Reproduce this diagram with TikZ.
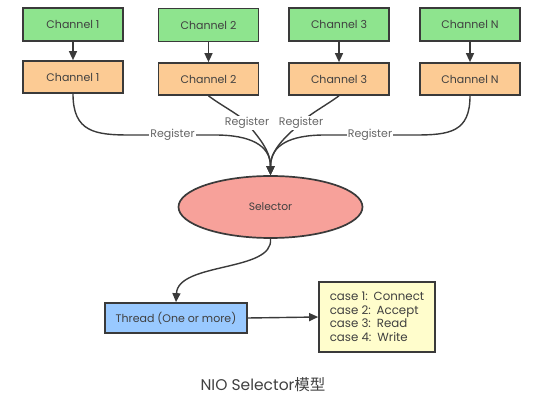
\documentclass[tikz,border=0pt]{standalone}
\usepackage{fontspec}
\setmainfont{Poppins}
\newfontfamily\cjk{Noto Sans CJK SC}
\usetikzlibrary{arrows.meta,shapes.geometric}
\definecolor{chgreen}{HTML}{8EE48E}
\definecolor{chorange}{HTML}{FCCB94}
\definecolor{selred}{HTML}{F7A19A}
\definecolor{thblue}{HTML}{99C9FF}
\definecolor{caseyel}{HTML}{FFFDCC}
\definecolor{edge}{HTML}{3A3A3A}
\definecolor{txt}{HTML}{404040}
\tikzset{
  box/.style={draw=edge, line width=1.7pt, minimum width=100pt, minimum height=33pt, inner sep=0pt, font=\fontsize{11}{13}\selectfont, text=txt},
  greenbox/.style={box, fill=chgreen},
  orangebox/.style={box, fill=chorange, minimum height=32pt},
  conn/.style={draw=edge, line width=1.4pt},
  arr/.style={conn, -{Triangle[length=9pt,width=8pt]}},
  reglabel/.style={fill=white, inner sep=1pt, text=gray!80!black, font=\fontsize{11}{12}\selectfont},
}
\begin{document}
\begin{tikzpicture}[x=1pt,y=-1pt]
\useasboundingbox (0,0) rectangle (560,411);
% top channels
\node[greenbox] (g1) at (73,24.5) {Channel 1};
\node[greenbox] (g2) at (208.5,25) {Channel 2};
\node[greenbox] (g3) at (339,24.5) {Channel 3};
\node[greenbox] (g4) at (470,24.5) {Channel N};
\node[orangebox] (o1) at (73,77) {Channel 1};
\node[orangebox] (o2) at (208.5,79) {Channel 2};
\node[orangebox] (o3) at (339,79) {Channel 3};
\node[orangebox] (o4) at (470,79) {Channel N};
\foreach \i in {1,2,3,4} {\draw[arr] (g\i) -- (o\i);}
% selector
\node[ellipse, draw=edge, line width=1.7pt, fill=selred, minimum width=184pt, minimum height=62pt, inner sep=0pt, font=\fontsize{10.7}{12}\selectfont, text=txt] (sel) at (270.5,207) {Selector};
% register connectors
\draw[arr] (o1.south) .. controls (73,132) and (95,135) .. (130,135)
  -- node[reglabel, pos=0.5] {Register} (215,135)
  .. controls (250,135) and (270.5,145) .. (sel.north);
\draw[arr] (o2.south) .. controls (222,106) and (240,115) .. node[reglabel, pos=1] {Register} (247,123)
  .. controls (258,137) and (270.5,150) .. (sel.north);
\draw[arr] (o3.south) .. controls (325,106) and (308,115) .. node[reglabel, pos=1] {Register} (301,123)
  .. controls (285,137) and (270.5,150) .. (sel.north);
\draw[arr] (o4.south) .. controls (470,132) and (450,135) .. (415,135)
  -- node[reglabel, pos=0.5] {Register} (325,135)
  .. controls (290,135) and (270.5,145) .. (sel.north);
% thread and cases
\node[box, fill=thblue, minimum width=142pt, minimum height=30pt] (th) at (176,318) {Thread (One or more)};
\node[draw=edge, line width=1.7pt, fill=caseyel, minimum width=116pt, minimum height=70pt, inner sep=0pt, text=txt, font=\fontsize{11.8}{13.5}\selectfont, align=left] (cs) at (377,317) {case 1:\enspace Connect\\case 2:\enspace Accept\\case 3:\enspace Read\\case 4:\enspace Write};
\draw[arr] (sel.south) .. controls (274,272) and (178,262) .. (th.north);
\draw[arr] (th.east) -- (cs.west);
% caption
\node[font=\fontsize{15.5}{18}\selectfont, text=txt] (cap) at (263,385) {NIO Selector{\cjk 模型}};
\end{tikzpicture}
\end{document}
